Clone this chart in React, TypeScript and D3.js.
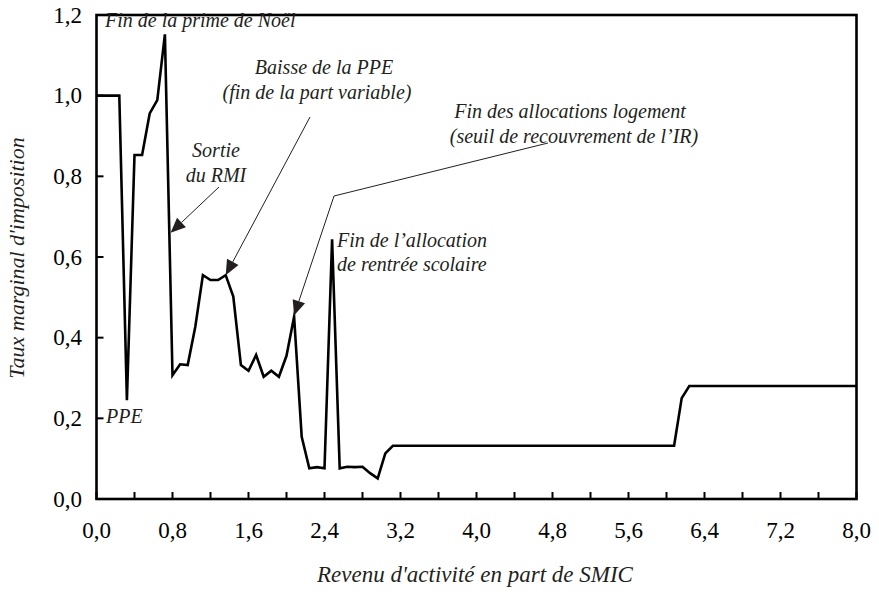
import React from "react";
import * as d3 from "d3";

const revenu = [0, 0.24, 0.32, 0.40, 0.48, 0.56, 0.64, 0.72, 0.80, 0.88, 0.96, 1.04, 1.12, 1.20, 1.28, 1.36, 1.44, 1.52, 1.60, 1.68, 1.76, 1.84, 1.92, 2.00, 2.08, 2.16, 2.24, 2.32, 2.40, 2.48, 2.56, 2.64, 2.72, 2.80, 2.88, 2.96, 3.04, 3.12, 6.08, 6.16, 6.24, 8.0];
const taux = [1.0, 1.0, 0.245, 0.853, 0.853, 0.956, 0.989, 1.152, 0.307, 0.334, 0.332, 0.427, 0.555, 0.543, 0.543, 0.555, 0.502, 0.332, 0.318, 0.357, 0.303, 0.318, 0.303, 0.355, 0.452, 0.154, 0.076, 0.079, 0.076, 0.644, 0.076, 0.08, 0.079, 0.08, 0.064, 0.051, 0.113, 0.132, 0.132, 0.25, 0.28, 0.28];
const xTickLabels = [0, 0.8, 1.6, 2.4, 3.2, 4.0, 4.8, 5.6, 6.4, 7.2, 8.0];
const xMinorTicks = [0, 0.4, 0.8, 1.2, 1.6, 2.0, 2.4, 2.8, 3.2, 3.6, 4.0, 4.4, 4.8, 5.2, 5.6, 6.0, 6.4, 6.8, 7.2, 7.6, 8.0];
const yTicks = [0, 0.2, 0.4, 0.6, 0.8, 1.0, 1.2];
const xTitle = "Revenu d'activité en part de SMIC";
const yTitle = "Taux marginal d'imposition";

const W = 879, H = 599;
const L = 96.5, R = 856.5, T = 15, B = 499;
const FONT = '"Liberation Serif"';
const ANN = "#231f20";

export default function App() {
  const x = d3.scaleLinear().domain([0, 8]).range([L, R]);
  const y = d3.scaleLinear().domain([0, 1.2]).range([B, T]);
  const fmt = (v: number) => d3.format(".1f")(v).replace(".", ",");
  const pts = revenu.map((r, i) => [r, taux[i]] as [number, number]);
  const line = d3.line<[number, number]>().x(d => x(d[0])).y(d => y(d[1]));

  const arrow = (x1: number, y1: number, x2: number, y2: number, key: string) => {
    const ang = Math.atan2(y2 - y1, x2 - x1);
    const len = 15, hw = 6.5;
    const bx = x2 - len * Math.cos(ang), by = y2 - len * Math.sin(ang);
    const px = -Math.sin(ang) * hw, py = Math.cos(ang) * hw;
    return (
      <g key={key}>
        <line x1={x1} y1={y1} x2={bx} y2={by} stroke={ANN} strokeWidth={1} />
        <path d={`M${x2},${y2}L${bx + px},${by + py}L${bx - px},${by - py}Z`} fill={ANN} />
      </g>
    );
  };

  const tStyle = { fontFamily: FONT };
  const iStyle = { fontFamily: FONT, fontStyle: "italic" as const };

  return (
    <svg width={W} height={H} style={{ position: "absolute", left: 0, top: 0, background: "#fff" }}>
      <rect x={0} y={0} width={W} height={H} fill="#fff" />
      {xMinorTicks.map(t => (
        <line key={"xt" + t} x1={x(t)} x2={x(t)} y1={B} y2={B - 7} stroke="#000" strokeWidth={2} />
      ))}
      {yTicks.map(t => (
        <line key={"yt" + t} x1={L} x2={L + 7} y1={y(t)} y2={y(t)} stroke="#000" strokeWidth={2} />
      ))}
      <path d={line(pts) || ""} fill="none" stroke="#000" strokeWidth={2.6} strokeLinejoin="miter" strokeMiterlimit={10} />
      <rect x={L} y={T} width={R - L} height={B - T} fill="none" stroke="#000" strokeWidth={2.6} />
      {xTickLabels.map(t => (
        <text key={"xl" + t} x={x(t)} y={538} textAnchor="middle" fontSize={23} fill="#000" style={tStyle}>{fmt(t)}</text>
      ))}
      {yTicks.map(t => (
        <text key={"yl" + t} x={82} y={y(t) + 7.5} textAnchor="end" fontSize={23} fill="#000" style={tStyle}>{fmt(t)}</text>
      ))}
      <text x={475} y={582} textAnchor="middle" fontSize={23} fill={ANN} style={iStyle}>{xTitle}</text>
      <text transform={`translate(24,258) rotate(-90)`} textAnchor="middle" fontSize={22} fill={ANN} style={iStyle}>{yTitle}</text>
      <g fill={ANN} fontSize={20}>
        <text x={105} y={27} style={iStyle}>Fin de la prime de Noël</text>
        <text x={216} y={157} textAnchor="middle" style={iStyle}>Sortie</text>
        <text x={216} y={182} textAnchor="middle" style={iStyle}>du RMI</text>
        <text x={324} y={74} textAnchor="middle" style={iStyle}>Baisse de la PPE</text>
        <text x={317} y={99} textAnchor="middle" style={iStyle}>(fin de la part variable)</text>
        <text x={570} y={118} textAnchor="middle" style={iStyle}>Fin des allocations logement</text>
        <text x={574} y={143} textAnchor="middle" style={iStyle}>(seuil de recouvrement de l’IR)</text>
        <text x={337} y={247} style={iStyle}>Fin de l’allocation</text>
        <text x={337} y={271} style={iStyle}>de rentrée scolaire</text>
        <text x={106} y={423} style={iStyle}>PPE</text>
      </g>
      {arrow(219, 187, x(0.78), y(0.66), "a1")}
      {arrow(310, 117, x(1.36), y(0.555), "a2")}
      <line x1={548} y1={143} x2={334} y2={196} stroke={ANN} strokeWidth={1} />
      {arrow(334, 196, x(2.08), y(0.455), "a3")}
    </svg>
  );
}
